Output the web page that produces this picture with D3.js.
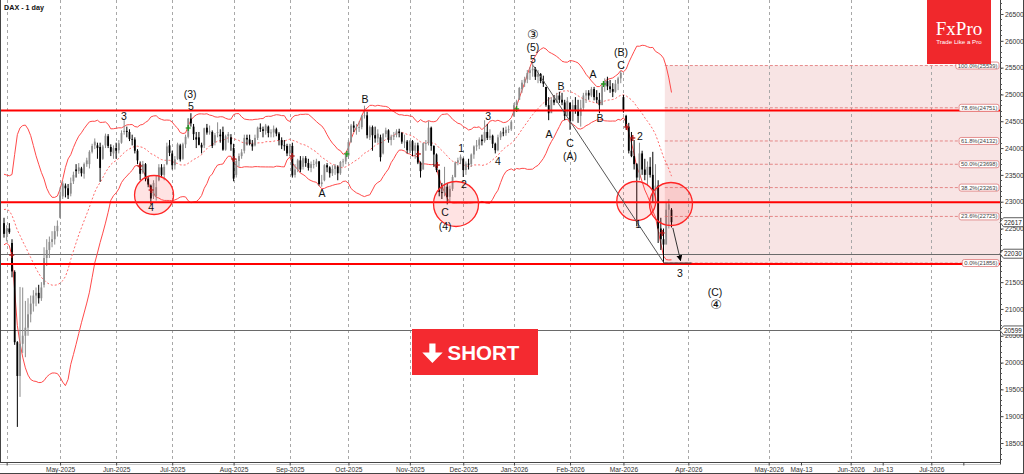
<!DOCTYPE html>
<html><head><meta charset="utf-8">
<script src="https://cdn.jsdelivr.net/npm/d3@7"></script>
<style>
html,body{margin:0;padding:0;background:#fff;}
svg{display:block;font-family:"Liberation Sans",Arial,sans-serif;}
</style>
</head><body>
<svg id="c" width="1024" height="474"></svg>
<script>
// ---------------- DATA ----------------
const title = "DAX - 1 day";
// closes before first visible bar (for Bollinger band warm-up)
const preCloses = [22327,23081,23419,23009,22621,22329,22676,22567,22987,23154,23380,23288,22999,22892,22852,23109,22839,22679,22461];
// daily candles [open, high, low, close], Mar 31 2025 .. Mar 26 2026
const candles = [
[22600,22700,22330,22400],[22400,22560,22260,22500],[22500,22600,22400,22430],[22230,22300,21590,21700],[21690,21720,20330,20380],
[20380,20400,18800,19750],[19750,21410,19360,20350],[20350,21400,20180,20500],[20500,21150,20100,20650],[20650,21200,20500,20900],
[20900,21250,20750,21100],[21100,21350,20950,21250],[21250,21400,21050,21300],[21300,21450,21100,21200],[21200,21500,21150,21400],
[21450,22150,21400,21950],[21950,22300,21800,22100],[22100,22350,21950,22250],[22250,22450,22150,22300],[22300,22550,22200,22450],
[22450,22650,22350,22550],
[22700,23270,22690,23120],[23100,23380,23050,23340],[23300,23340,23080,23250],[23250,23330,23050,23120],[23150,23450,23100,23350],
[23380,23560,23330,23500],[23600,23700,23450,23570],[23570,23720,23520,23640],[23620,23650,23470,23530],[23520,23730,23430,23700],
[23700,23820,23650,23770],[23700,23960,23620,23930],[23930,24080,23900,24040],[24050,24180,23980,24120],[24050,24100,23800,24000],
[24020,24100,23370,23630],[23800,24060,23780,24030],[24050,24270,24000,24230],[24220,24260,24000,24040],[24020,24070,23850,23930],
[23900,24050,23800,24000],
[24000,24100,23800,23950],[23960,24150,23900,24090],[24100,24330,24080,24280],[24300,24520,24250,24320],[24320,24400,24200,24300],
[24300,24350,24130,24170],[24170,24250,24050,24160],[24160,24200,23900,23950],[23950,23980,23700,23770],[23700,23750,23400,23520],
[23550,23760,23520,23700],[23700,23720,23380,23430],[23430,23480,23270,23320],[23300,23320,22950,23060],[23100,23400,23050,23350],
[23100,23480,23020,23270],[23400,23700,23380,23640],[23640,23700,23450,23500],[23500,23700,23400,23650],[23700,24100,23680,24030],
[24050,24150,23850,23910],
[23900,23950,23600,23680],[23680,23850,23600,23790],[23800,24100,23780,24070],[24050,24080,23750,23790],[23800,24100,23780,24070],
[24070,24250,24000,24210],[24210,24560,24180,24550],[24550,24650,24400,24460],[24400,24450,24150,24260],[24200,24300,24000,24160],
[24200,24300,24050,24060],[24060,24100,23900,24010],[24050,24380,24000,24370],[24380,24450,24250,24290],[24300,24420,24250,24310],
[24300,24330,24000,24040],[24100,24280,24050,24240],[24300,24480,24200,24300],[24250,24350,24100,24220],[24300,24400,23950,23970],
[23970,24250,23950,24220],[24220,24300,24100,24260],[24200,24260,23950,24070],
[24000,24080,23380,23430],[23500,23800,23450,23760],[23760,23900,23650,23850],[23850,23980,23800,23920],[23950,24250,23900,24190],
[24190,24250,24050,24160],[24160,24250,24050,24080],[24080,24150,23950,24030],[24050,24250,24030,24190],[24190,24400,24150,24380],
[24380,24460,24300,24360],[24350,24400,24200,24320],[24320,24450,24250,24420],[24400,24420,24200,24280],[24280,24350,24200,24290],
[24290,24420,24200,24360],[24350,24380,24220,24270],[24270,24300,24050,24150],[24150,24200,23980,24050],[24050,24150,23950,24040],
[24040,24080,23850,23900],
[23900,24080,23850,24040],[24040,24100,23450,23490],[23500,23700,23450,23600],[23600,23800,23550,23770],[23770,23850,23550,23600],
[23650,23850,23600,23810],[23810,23850,23650,23720],[23720,23800,23580,23630],[23630,23750,23550,23700],[23700,23780,23620,23700],
[23700,23800,23650,23750],[23750,23760,23300,23330],[23330,23500,23280,23360],[23400,23700,23380,23680],[23680,23720,23550,23640],
[23640,23660,23450,23530],[23530,23680,23480,23610],[23610,23700,23500,23670],[23650,23680,23400,23530],[23530,23760,23500,23740],
[23740,23800,23650,23750],[23750,23900,23700,23880],
[23850,24150,23800,24110],[24110,24450,24100,24420],[24420,24500,24300,24380],[24380,24450,24250,24380],[24380,24500,24300,24390],
[24390,24620,24350,24600],[24600,24790,24550,24610],[24610,24680,24180,24240],[24200,24420,24150,24390],[24390,24420,23950,24240],
[24240,24400,24100,24180],[24180,24350,24100,24270],[24200,24250,23750,23830],[23900,24280,23880,24260],[24260,24380,24200,24330],
[24330,24350,24100,24150],[24150,24250,24050,24210],[24210,24300,24150,24240],[24250,24350,24200,24310],[24310,24360,24200,24280],
[24280,24300,24080,24120],[24120,24250,24000,24120],[24120,24150,23900,23960],
[23950,24150,23900,24130],[24130,24150,23850,23950],[23950,24100,23800,24050],[24050,24100,23700,23730],[23730,23750,23450,23570],
[23600,24100,23600,24090],[24090,24150,23950,24090],[24090,24500,24050,24380],[24380,24400,23950,24040],[24040,24050,23650,23880],
[23880,23900,23550,23590],[23590,23600,23100,23180],[23180,23350,23050,23160],[23160,23650,23100,23280],[23280,23350,22950,23090],
[23090,23300,23000,23240],[23240,23500,23200,23460],[23460,23750,23450,23730],[23730,23820,23680,23770],[23770,23880,23700,23840],
[23800,23820,23460,23590],[23590,23750,23500,23710],[23710,23800,23600,23690],[23700,23900,23650,23880],[23880,24050,23800,24030],
[24030,24150,23950,24050],[24050,24200,23980,24160],[24160,24250,24050,24130],[24130,24520,24100,24300],[24300,24450,24150,24190],
[24190,24350,24150,24230],[24230,24250,24000,24080],[24080,24100,23900,23960],[23960,24250,23940,24200],[24200,24320,24150,24290],
[24290,24380,24220,24280],[24280,24400,24230,24340],[24340,24420,24280,24350],[24350,24520,24320,24490],
[24600,24840,24580,24800],[24800,24900,24710,24870],[24900,25140,24900,25120],[25100,25270,25030,25220],[25220,25330,25140,25280],
[25280,25455,25210,25400],[25400,25510,25270,25450],[25450,25590,25330,25480],[25480,25510,25270,25330],[25330,25456,25210,25380],
[25380,25400,25210,25250],[25250,25350,25140,25200],[25140,25140,24770,24800],[24800,24950,24520,24650],[24650,24950,24710,24900],
[24900,24990,24800,24850],[24850,25030,24840,24980],[24980,25050,24840,24900],[24900,25030,24800,24850],[24850,24900,24520,24600],
[24600,24950,24650,24880],
[24850,24840,24340,24500],[24500,24900,24580,24800],[24800,24950,24640,24700],[24700,24900,24470,24600],[24600,24900,24400,24750],
[24750,25030,24710,24980],[24980,25080,24840,25030],[25030,25080,24900,24980],[24980,25140,24950,25100],[25100,25140,24890,24950],
[24950,25080,24840,24900],[24900,25030,24650,24800],[24800,25210,24950,25150],[25150,25300,25050,25250],[25250,25330,25080,25150],
[25150,25270,25030,25100],[25100,25210,24950,25050],[25050,25270,25030,25200],[25200,25330,25080,25300],[25300,25440,25210,25400],
[24950,24990,24660,24700],[24600,24620,24340,24400],[24400,24470,23900,23950],[23950,24300,23830,23850],[23850,24150,23600,23700],
[23700,23720,22540,23450],[23450,24100,23400,23900],[23900,23950,23500,23600],[23600,23800,23400,23500],[23500,23750,23300,23650],
[23650,23830,23450,23500],[23500,23930,22980,23200],[23200,23700,23050,23300],[23300,23400,22230,22500],[22500,22700,22100,22300],
[22300,22500,21860,22200],[22200,22980,22340,22850],[22850,23050,22500,22950],[22850,22880,22520,22617]
];
// x-axis ticks (bar index positions) and their labels
const xTickIdx    = [1, 21, 42, 63, 86, 107, 129, 152, 172, 191, 212, 232, 256.3, 286.4, 298.5, 317.1, 329.1, 347.3, 359.3];
const xTickLabels = ["", "May-2025","Jun-2025","Jul-2025","Aug-2025","Sep-2025","Oct-2025","Nov-2025","Dec-2025","Jan-2026","Feb-2026","Mar-2026","Apr-2026","May-2026","May-13","Jun-2026","Jun-13","Jul-2026",""];
const xGridFlag   = [1,1,1,1,1,1,1,1,1,1,1,1,1,1,0,1,0,1,0];
// y-axis ticks
const yTicks = [18500,19000,19500,20000,20500,21000,21500,22000,22500,23000,23500,24000,24500,25000,25500,26000,26500];
// horizontal levels
const redLevels  = [24700, 22990, 21840];
const greyLevels = [22030, 20599];
const priceTags  = [22617, 22030, 20599];
// Fibonacci retracement
const fibValues = [25539, 24751, 24132, 23698, 23263, 22725, 21856];
const fibLabels = ["100.0%(25539)","78.6%(24751)","61.8%(24132)","50.0%(23698)","38.2%(23263)","23.6%(22725)","0.0%(21856)"];
const fibStartIdx = 247.5;
// trend lines
const trendIdx = [198.2, 247.2], trendVal = [25539, 21856];
const baseIdx  = [247.2, 257.5], baseVal  = [21856, 21856];
const arrowIdx = [250.5, 253.4], arrowVal = [22510, 21900];
// circles (centre index/value)
const circleIdx = [56.2, 169.3, 236.8, 249.8];
const circleVal = [23125, 22957, 23013, 22957];
// wave labels
const waveText = ["3","(3)","5","4","A","B","C","(4)","1","2","3","4","③","(5)","5","A","B","C","(A)","A","B","(B)","C","2","1","3","(C)","④"];
const waveIdx  = [44.9,69.7,70.0,55.1,119.1,135.2,165.2,165.2,171.2,172.3,181.3,185.0,198.1,198.1,198.1,204.1,208.6,212.0,212.0,220.6,223.2,231.1,231.1,238.2,237.5,253.2,266.3,266.7];
const waveVal  = [24598,25008,24785,22901,23162,24915,22808,22547,24001,23330,24598,23759,26127,25885,25661,24262,25157,24095,23852,25381,24561,25791,25549,24225,22584,21671,21317,21074];
// signal markers
const markerIdx  = [2.9,50.9,55.1,86.1,107.9,155.2,162.3,233.2,235.5,246.5, 69.0,128.4,192.0,224.5];
const markerVal  = [22006,23666,23218,23796,23852,23890,23684,24393,24188,22417, 24374,23890,24729,25195];
const markerSell = [1,1,1,1,1,1,1,1,1,1, 0,0,0,0];
const bbPeriod = 20, bbDev = 2;

// ---------------- SCALES ----------------
const svg = d3.select('#c');
const x = d3.scaleLinear().domain([0, 100]).range([4, 271]);
const y = d3.scaleLinear().domain([18500, 26500]).range([443, 14]);
const PR = 1000, PB = 462.5;

const defs = svg.append('defs');
defs.append('clipPath').attr('id','plot').append('rect').attr('x',1).attr('y',0).attr('width',PR-1).attr('height',PB);
const mk = defs.append('marker').attr('id','ah').attr('viewBox','0 0 10 10').attr('refX',9).attr('refY',5)
  .attr('markerWidth',6).attr('markerHeight',6).attr('orient','auto-start-reverse').attr('markerUnits','userSpaceOnUse');
mk.append('path').attr('d','M0,0L10,5L0,10z').attr('fill','#000');

const plot = svg.append('g').attr('clip-path','url(#plot)');

// Fib zone background
plot.append('rect').attr('x', x(fibStartIdx)).attr('y', y(fibValues[0]))
  .attr('width', PR - x(fibStartIdx)).attr('height', y(fibValues[6]) - y(fibValues[0]))
  .attr('fill', '#f8e4e4');

// vertical grid
plot.selectAll('line.vg').data(xTickIdx.filter((d,i)=>xGridFlag[i])).join('line')
  .attr('x1', d=>Math.round(x(d))+0.5).attr('x2', d=>Math.round(x(d))+0.5).attr('y1',0).attr('y2',PB)
  .attr('stroke','#a8a8a8').attr('stroke-width',1).attr('stroke-dasharray','3,3');

// grey levels
plot.selectAll('line.gl').data(greyLevels).join('line')
  .attr('x1',0).attr('x2',PR).attr('y1',d=>Math.round(y(d))+0.5).attr('y2',d=>Math.round(y(d))+0.5)
  .attr('stroke','#6a6a6a').attr('stroke-width',1);

// Bollinger bands
const closesAll = preCloses.concat(candles.map(d=>d[3]));
const bb = candles.map((d,i)=>{
  const w = closesAll.slice(i + preCloses.length - bbPeriod + 1, i + preCloses.length + 1);
  const m = d3.mean(w);
  const sd = Math.sqrt(d3.mean(w.map(v=>(v-m)*(v-m))));
  return {i, m, u: m + bbDev*sd, l: m - bbDev*sd};
});
const bl = k => d3.line().x(d=>x(d.i)).y(d=>y(d[k])).curve(d3.curveLinear);
plot.append('path').attr('d', bl('u')(bb)).attr('fill','none').attr('stroke','#ff4a4a').attr('stroke-width',1);
plot.append('path').attr('d', bl('l')(bb)).attr('fill','none').attr('stroke','#ff4a4a').attr('stroke-width',1);
plot.append('path').attr('d', bl('m')(bb)).attr('fill','none').attr('stroke','#ff6a6a').attr('stroke-width',1).attr('stroke-dasharray','2,2');

// candles
const cg = plot.append('g');
const cd = candles.map((d,i)=>({i,o:d[0],h:d[1],l:d[2],c:d[3]}));
const ccol = d => d.c >= d.o ? '#8c8c8c' : '#000';
cg.selectAll('line').data(cd).join('line')
  .attr('x1',d=>x(d.i)).attr('x2',d=>x(d.i)).attr('y1',d=>y(d.h)).attr('y2',d=>y(d.l))
  .attr('stroke',ccol).attr('stroke-width',1);
cg.selectAll('rect').data(cd).join('rect')
  .attr('x',d=>x(d.i)-0.9).attr('width',1.8)
  .attr('y',d=>y(Math.max(d.o,d.c))).attr('height',d=>Math.max(0.8, y(Math.min(d.o,d.c))-y(Math.max(d.o,d.c))))
  .attr('fill',ccol);

// markers
const mg = plot.append('g');
markerIdx.forEach((mi,k)=>{
  const cx = x(mi), cy = y(markerVal[k]);
  const col = markerSell[k] ? '#b01515' : '#1e9a1e';
  mg.append('line').attr('x1',cx-2.5).attr('x2',cx+2.5).attr('y1',cy).attr('y2',cy).attr('stroke',col).attr('stroke-width',1.3);
  mg.append('line').attr('x1',cx).attr('x2',cx).attr('y1',cy-3).attr('y2',cy+3).attr('stroke',col).attr('stroke-width',1.3);
});

// fib level lines
plot.selectAll('line.fl').data(fibValues).join('line')
  .attr('x1', x(fibStartIdx)).attr('x2', 962).attr('y1', d=>y(d)).attr('y2', d=>y(d))
  .attr('stroke','#e07070').attr('stroke-width',0.8).attr('stroke-dasharray','3,2');

// red levels
plot.selectAll('line.rl').data(redLevels).join('line')
  .attr('x1',0).attr('x2',PR).attr('y1',d=>y(d)).attr('y2',d=>y(d))
  .attr('stroke','#ff0000').attr('stroke-width',2);

// circles
const radii = [19.5, 22.5, 19.5, 21.5];
plot.selectAll('circle.z').data(circleIdx).join('circle')
  .attr('cx', d=>x(d)).attr('cy', (d,k)=>y(circleVal[k])).attr('r', (d,k)=>radii[k])
  .attr('fill','rgba(255,60,60,0.14)').attr('stroke','#ff2525').attr('stroke-width',1.3);

// trend lines
const ln = d3.line().x(d=>x(d[0])).y(d=>y(d[1]));
plot.append('path').attr('d', ln(trendIdx.map((d,k)=>[d,trendVal[k]]))).attr('stroke','#555').attr('stroke-width',1).attr('fill','none');
plot.append('path').attr('d', ln(baseIdx.map((d,k)=>[d,baseVal[k]]))).attr('stroke','#333').attr('stroke-width',1).attr('fill','none');
plot.append('path').attr('d', ln(arrowIdx.map((d,k)=>[d,arrowVal[k]]))).attr('stroke','#333').attr('stroke-width',1).attr('fill','none').attr('marker-end','url(#ah)');

// wave labels
plot.selectAll('text.w').data(waveText).join('text')
  .attr('x',(d,k)=>x(waveIdx[k])).attr('y',(d,k)=>y(waveVal[k]))
  .attr('text-anchor','middle').attr('dominant-baseline','central')
  .attr('font-size',(d)=> (d==='③'||d==='④') ? 13 : 10.5)
  .attr('font-family',(d)=> (d==='③'||d==='④') ? '"DejaVu Sans",sans-serif' : '"Liberation Sans",Arial,sans-serif')
  .attr('fill','#111').text(d=>d);

// fib labels
const fl = svg.append('g');
fibValues.forEach((v,k)=>{
  const t = fl.append('text').attr('x',997.5).attr('y',y(v)).attr('text-anchor','end').attr('dominant-baseline','central')
    .attr('font-size',5.8).attr('fill','#444').text(fibLabels[k]);
  const bw = t.node().getComputedTextLength();
  fl.insert('rect','text').attr('x',997.5-bw-2).attr('y',y(v)-3.5).attr('width',bw+3.5).attr('height',7).attr('rx',2)
    .attr('fill','#fff').attr('stroke','#d77').attr('stroke-width',0.8);
});

// frame + axes
svg.append('line').attr('x1',0.5).attr('x2',0.5).attr('y1',0).attr('y2',PB).attr('stroke','#444');
svg.append('line').attr('x1',0).attr('x2',PR).attr('y1',PB).attr('y2',PB).attr('stroke','#444');
svg.append('line').attr('x1',0).attr('x2',PR).attr('y1',PB+2).attr('y2',PB+2).attr('stroke','#c8c8c8');
svg.append('line').attr('x1',PR+0.5).attr('x2',PR+0.5).attr('y1',0).attr('y2',PB+2).attr('stroke','#444');
svg.append('line').attr('x1',0).attr('x2',1024).attr('y1',473.5).attr('y2',473.5).attr('stroke','#444');
svg.append('line').attr('x1',1023.5).attr('x2',1023.5).attr('y1',0).attr('y2',474).attr('stroke','#444');

// y-axis labels hidden where a price tag covers them (as in the reference)
const covered = v => priceTags.some(p => Math.abs(y(p) - y(v)) < 4);
const ya = svg.append('g').attr('transform',`translate(${PR+0.5},0)`)
  .call(d3.axisRight(y).tickValues(yTicks).tickSize(3).tickPadding(1.5).tickFormat(d => covered(d) ? '' : d3.format('d')(d)));
ya.select('.domain').remove();
ya.selectAll('line').attr('stroke','#444');
ya.selectAll('text').attr('font-size',6.8).attr('fill','#333').attr('font-family','"Liberation Sans",Arial,sans-serif');
const minor = d3.range(18200, 26800, 100);
svg.append('g').selectAll('line').data(minor).join('line')
  .attr('x1',PR).attr('x2',PR+2).attr('y1',d=>Math.round(y(d))+0.5).attr('y2',d=>Math.round(y(d))+0.5).attr('stroke','#555');

const xa = svg.append('g').attr('transform',`translate(0,${PB})`)
  .call(d3.axisBottom(x).tickValues(xTickIdx).tickSize(3).tickPadding(2).tickFormat((d,k)=>xTickLabels[k]));
xa.select('.domain').remove();
xa.selectAll('line').attr('stroke','#444');
xa.selectAll('text').attr('font-size',6.6).attr('fill','#333').attr('font-family','"Liberation Sans",Arial,sans-serif');

// price tags
const tg = svg.append('g');
priceTags.forEach(v=>{
  const cy = y(v);
  tg.append('path').attr('d',`M${PR},${cy} L${PR+3.5},${cy-4.5} L${1023.5},${cy-4.5} L${1023.5},${cy+4.5} L${PR+3.5},${cy+4.5} Z`)
    .attr('fill','#fff').attr('stroke','#333').attr('stroke-width',0.8);
  tg.append('text').attr('x',PR+4).attr('y',cy).attr('dominant-baseline','central').attr('font-size',6.4).attr('fill','#222').text(v);
});

// title
svg.append('text').attr('x',4).attr('y',9.5).attr('font-size',7.2).attr('font-weight','bold').attr('fill','#111').text(title);

// logo
svg.append('rect').attr('x',927).attr('y',0).attr('width',64).attr('height',64).attr('fill','#f0282c');
svg.append('text').attr('x',959).attr('y',35).attr('text-anchor','middle').attr('font-family','"Liberation Serif",serif')
  .attr('font-size',19).attr('fill','#fff').text('FxPro');
svg.append('text').attr('x',959).attr('y',43.5).attr('text-anchor','middle').attr('font-size',6.2).attr('fill','#fff').text('Trade Like a Pro');

// SHORT badge
const sb = svg.append('g');
sb.append('rect').attr('x',412).attr('y',329).attr('width',126).attr('height',46).attr('fill','#f42a30');
sb.append('path').attr('d','M429.3,343.5 L435.5,343.5 L435.5,352.5 L442.7,352.5 L432.4,363 L422.3,352.5 L429.3,352.5 Z').attr('fill','#fff');
sb.append('text').attr('x',447.5).attr('y',359.5).attr('font-size',20.5).attr('font-weight','bold').attr('fill','#fff').text('SHORT');
</script>
</body></html>
